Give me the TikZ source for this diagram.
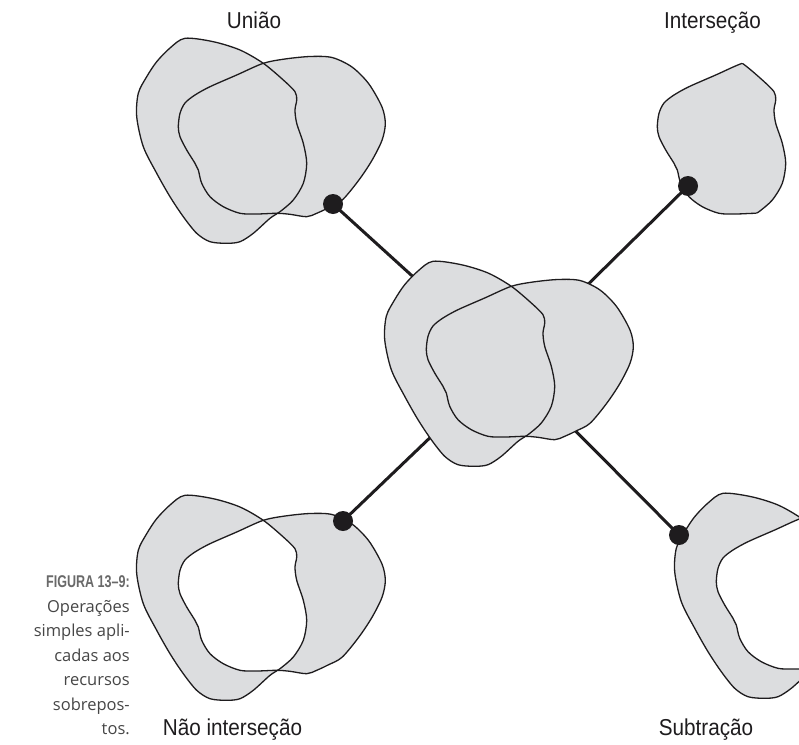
\documentclass[tikz,border=0pt]{standalone}
\usepackage{fontspec}
\setmainfont{Liberation Sans}[FakeStretch=0.9]
\newfontfamily\capfont{Open Sans}
\definecolor{blob}{RGB}{220,221,223}
\definecolor{capgray}{RGB}{70,70,70}
\definecolor{capbgray}{RGB}{105,105,105}
\definecolor{ink}{RGB}{30,28,30}
\tikzset{
  outline/.style={draw=ink, line width=1.3pt, line join=round},
  conn/.style={line width=3pt, draw=ink},
  dotnode/.style={circle, fill=ink, inner sep=0pt, minimum size=20pt},
  lbl/.style={font=\fontsize{23}{26}\selectfont, anchor=base, text=ink, inner sep=0pt},
  capl/.style={font=\capfont\fontsize{16.5}{24}\selectfont, anchor=base east, text=capgray, inner sep=0pt},
  capb/.style={anchor=base east, text=capbgray, inner sep=0pt},
}
\def\pathA{plot[smooth cycle, tension=0.5] coordinates {
 (185,38.3) (213.3,41.7) (240,50) (263.3,63.3) (283.3,80) (295,91.7) (296.7,100)
 (295,110) (296.7,123.3) (303.3,143.3) (306.7,163.3) (303.3,183.3) (293.3,200)
 (280,211.7) (270,218.3) (253.3,233.3) (240,241.7) (226.7,243.3) (210,241.7)
 (196.7,233.3) (183.3,216.7) (170,196.7) (156.7,173.3) (143.3,146.7) (136.7,116.7)
 (138.3,93.3) (146.7,76.7) (156.7,61.7) (170,48)}}
\def\pathB{plot[smooth cycle, tension=0.5] coordinates {
 (178.3,126.7) (180,113.3) (185,103) (195,95) (210,86.7) (236.7,75) (263.3,63.3)
 (285,59) (310,56.5) (332,57.5) (352,67) (368.7,83.7) (382,107) (385.3,123.7)
 (382,140.3) (372,160.3) (358.7,180.3) (342,200.3) (328,208) (316.7,213.3)
 (306.7,216.7) (290,214.3) (276.7,213.3) (256.7,214) (240,213.3) (223.3,206.7)
 (210,196.7) (201.7,183.3) (198.3,170) (195,163.3) (186.7,150) (180,136.7)}}
\begin{document}
\begin{tikzpicture}[x=1pt,y=-1pt]
\useasboundingbox (0,0) rectangle (799,744);

% connector end points
\coordinate (c) at (508,363);
\coordinate (p1) at (333,204);
\coordinate (p2) at (688,186);
\coordinate (p3) at (343,521);
\coordinate (p4) at (679,535);
\draw[conn] (p1) -- (c);
\draw[conn] (p2) -- (c);
\draw[conn] (p3) -- (c);
\draw[conn] (p4) -- (c);

% Uniao
\begin{scope}
  \fill[blob] \pathA; \fill[blob] \pathB;
  \draw[outline] \pathA; \draw[outline] \pathB;
\end{scope}

% center
\begin{scope}[shift={(248,223)}]
  \fill[blob] \pathA; \fill[blob] \pathB;
  \draw[outline] \pathA; \draw[outline] \pathB;
\end{scope}

% Intersecao
\begin{scope}[shift={(479,0)}]
  \begin{scope}
    \clip \pathA;
    \fill[blob] \pathB;
    \draw[outline] \pathB;
  \end{scope}
  \begin{scope}
    \clip \pathB;
    \draw[outline] \pathA;
  \end{scope}
\end{scope}

% Nao intersecao
\begin{scope}[shift={(0,457)}]
  \fill[blob, even odd rule] \pathA \pathB;
  \draw[outline] \pathA; \draw[outline] \pathB;
\end{scope}

% Subtracao
\begin{scope}[shift={(538,455)}]
  \fill[blob] \pathA;
  \draw[outline] \pathA;
  \fill[white] \pathB;
  \begin{scope}
    \clip \pathA;
    \draw[outline] \pathB;
  \end{scope}
\end{scope}

% dots
\node[dotnode] (d1) at (p1) {};
\node[dotnode] (d2) at (p2) {};
\node[dotnode] (d3) at (p3) {};
\node[dotnode] (d4) at (p4) {};

% labels
\node[lbl] (l1) at (254,28) {União};
\node[lbl] (l2) at (712.5,28) {Interseção};
\node[lbl] (l3) at (232.5,735) {Não interseção};
\node[lbl] (l4) at (706,735) {Subtração};

% caption
\node[capb] (c0) at (130,587) {\fontsize{17}{20}\selectfont\bfseries\scalebox{0.82}[1]{FIGURA 13–9:}};
\node[capl] (c1) at (130,612) {Operações};
\node[capl] (c2) at (130,636.5) {simples apli-};
\node[capl] (c3) at (130,661) {cadas aos};
\node[capl] (c4) at (130,685.5) {recursos};
\node[capl] (c5) at (130,710) {sobrepos-};
\node[capl] (c6) at (130,734) {tos.};
\end{tikzpicture}
\end{document}
